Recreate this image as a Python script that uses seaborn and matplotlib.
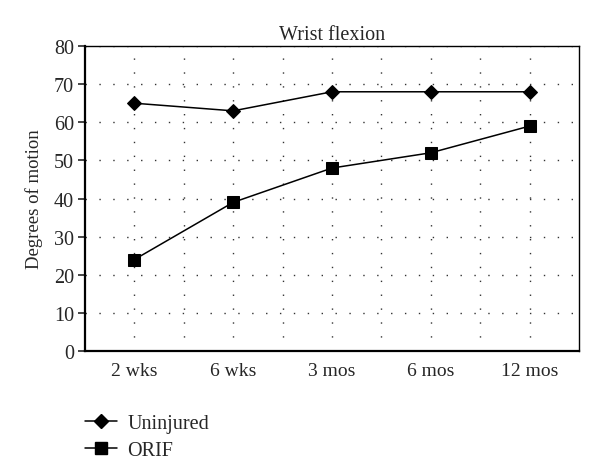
import pandas as pd
import matplotlib
matplotlib.use("Agg")
import matplotlib.pyplot as plt
import seaborn as sns

# data
timepoints = ["2 wks", "6 wks", "3 mos", "6 mos", "12 mos"]
uninjured = [65, 63, 68, 68, 68]
orif = [24, 39, 48, 52, 59]
series_names = ["Uninjured", "ORIF"]
y_ticks = [0, 10, 20, 30, 40, 50, 60, 70, 80]

df = pd.DataFrame({
    "time": timepoints * 2,
    "value": uninjured + orif,
    "group": [series_names[0]] * len(timepoints) + [series_names[1]] * len(timepoints),
})

sns.set_style("white")
plt.rcParams["font.family"] = ["Liberation Serif", "DejaVu Serif"]

fig = plt.figure(figsize=(6, 4.77), dpi=100)
ax = fig.add_axes([0.1417, 0.262, 0.8233, 0.6394])

sns.lineplot(data=df, x="time", y="value", hue="group", style="group",
             palette=["black", "black"], markers={"Uninjured": "D", "ORIF": "s"},
             dashes=False, sort=False, linewidth=1.1, ax=ax, legend=False)
for line, ms in zip(ax.lines, [7.5, 9]):
    line.set_markersize(ms)
    line.set_markeredgecolor("black")

ax.set_xlim(-0.5, 4.5)
ax.set_ylim(0, 80)
ax.set_yticks(y_ticks)
ax.set_xticks(range(len(timepoints)))
ax.set_xticklabels(timepoints)
ax.set_xticks([0.5, 1.5, 2.5, 3.5], minor=True)

grid_kw = dict(color="#333333", linestyle=(0, (1, 9)), linewidth=1.0)
ax.grid(True, axis="y", which="major", **grid_kw)
ax.grid(True, axis="x", which="both", **grid_kw)

ax.tick_params(axis="y", which="major", direction="out", length=5, width=1.2,
               labelsize=14.5, left=True, pad=3)
ax.tick_params(axis="x", which="both", length=0, labelsize=14, pad=8)

for side in ["left", "bottom"]:
    ax.spines[side].set_linewidth(1.6)
for side in ["top", "right"]:
    ax.spines[side].set_linewidth(1.0)
for sp in ax.spines.values():
    sp.set_color("black")
    sp.set_visible(True)

ax.set_xlabel("")
ax.set_ylabel("Degrees of motion", fontsize=13.5, labelpad=8)
ax.set_title("Wrist flexion", fontsize=14.5, pad=5)

handles = [plt.Line2D([], [], color="black", marker="D", markersize=7.5, linewidth=1.1),
           plt.Line2D([], [], color="black", marker="s", markersize=9, linewidth=1.1)]
fig.legend(handles, series_names, loc="upper left", bbox_to_anchor=(0.128, 0.148),
           frameon=False, fontsize=14.5, handlelength=1.6, handletextpad=0.5,
           labelspacing=0.4, borderaxespad=0)

fig.savefig("out.png", dpi=100)
